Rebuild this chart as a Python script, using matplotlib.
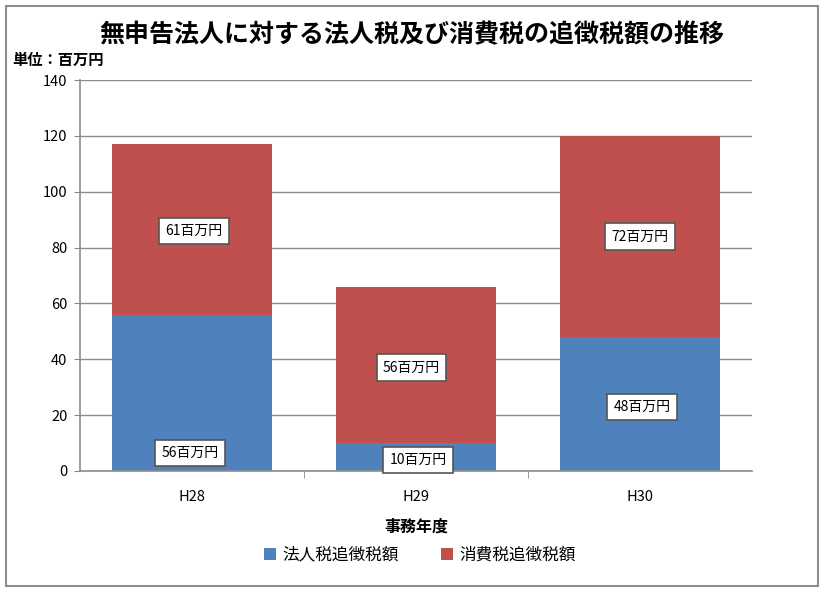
import matplotlib
matplotlib.use("Agg")
import matplotlib.pyplot as plt
from matplotlib.patches import Rectangle

plt.rcParams["font.family"] = ["Noto Sans CJK JP", "DejaVu Sans"]

years = ["H28", "H29", "H30"]
corp_tax = [56, 10, 48]
cons_tax = [61, 56, 72]
corp_label = ["56百万円", "10百万円", "48百万円"]
cons_label = ["61百万円", "56百万円", "72百万円"]

# label box positions (x offset, y value)
corp_pos = [(-0.01, 6.5), (0.01, 4), (0.01, 23)]
cons_pos = [(0.01, 86), (-0.02, 37), (0.0, 84)]

blue = "#4F81BD"
red = "#C0504D"

fig = plt.figure(figsize=(8.24, 5.93), dpi=100)
ax = fig.add_axes([80 / 824, 1 - 471 / 593, (752 - 80) / 824, (471 - 80) / 593])

x = list(range(len(years)))
ax.bar(x, corp_tax, width=0.71, color=blue, label="法人税追徴税額", zorder=2)
ax.bar(x, cons_tax, width=0.71, bottom=corp_tax, color=red, label="消費税追徴税額", zorder=2)

box = dict(boxstyle="square,pad=0.45", fc="white", ec="#555555", lw=1.2)
for i in x:
    ax.text(i + corp_pos[i][0], corp_pos[i][1], corp_label[i], ha="center", va="center",
            fontsize=10, bbox=box, zorder=3)
    ax.text(i + cons_pos[i][0], cons_pos[i][1], cons_label[i], ha="center", va="center",
            fontsize=10, bbox=box, zorder=3)

ax.set_xlim(-0.5, 2.5)
ax.set_ylim(0, 140)
ax.set_yticks(range(0, 141, 20))
ax.set_xticks(x)
ax.set_xticklabels(years, fontsize=10.5)
ax.set_xticks([0.5, 1.5], minor=True)
ax.tick_params(axis="x", which="major", length=0, pad=14)
ax.tick_params(axis="x", which="minor", length=5, color="#888888")
ax.tick_params(axis="y", length=4, color="#888888", labelsize=10.5, pad=5)
ax.grid(axis="y", color="#8c8c8c", lw=1, zorder=0)
for s in ["top", "right"]:
    ax.spines[s].set_visible(False)
for s in ["left", "bottom"]:
    ax.spines[s].set_color("#8c8c8c")
    ax.spines[s].set_linewidth(1.2)

ax.set_xlabel("事務年度", fontsize=11.5, fontweight="bold", labelpad=10)

fig.text(412 / 824, 1 - 35 / 593, "無申告法人に対する法人税及び消費税の追徴税額の推移",
         ha="center", va="center", fontsize=18, fontweight="bold")
fig.text(12 / 824, 1 - 60 / 593, "単位：百万円", ha="left", va="center",
         fontsize=11, fontweight="bold")

fig.legend(loc="center", bbox_to_anchor=(420 / 824, 1 - 555 / 593), ncol=2, frameon=False,
           fontsize=12, handlelength=0.7, handleheight=0.7, columnspacing=2.5, handletextpad=0.4)

fig.patches.append(Rectangle((6 / 824, 1 - 586 / 593), 812 / 824, 580 / 593,
                             transform=fig.transFigure, fill=False, ec="#8c8c8c", lw=1.5))

fig.savefig("out.png", dpi=100)
